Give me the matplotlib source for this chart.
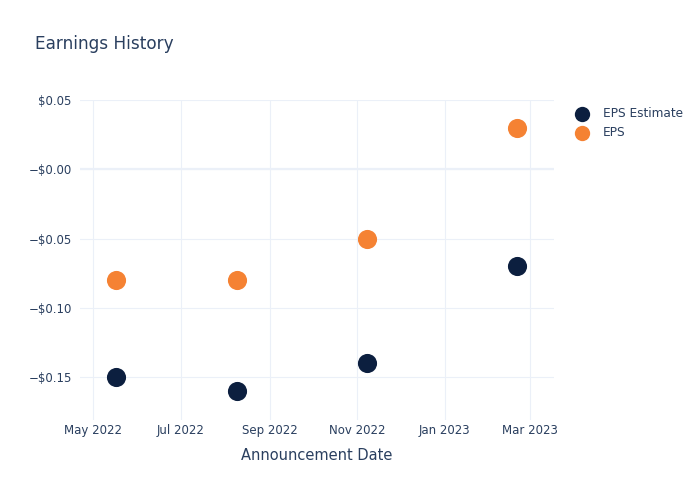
import matplotlib
matplotlib.use("Agg")
import matplotlib.pyplot as plt
import matplotlib.dates as mdates
import matplotlib.ticker as mticker
from datetime import datetime

# dane
daty = ["2022-05-17", "2022-08-09", "2022-11-08", "2023-02-20"]
eps_estimate = [-0.15, -0.16, -0.14, -0.07]
eps = [-0.08, -0.08, -0.05, 0.03]

kolor_tekstu = "#2a3f5f"
kolor_siatki = "#ebf0f8"

x = [datetime.strptime(d, "%Y-%m-%d") for d in daty]

fig = plt.figure(figsize=(7, 5), dpi=100)
ax = fig.add_axes([80 / 700, 80 / 500, 474 / 700, 320 / 500])

ax.scatter(x, eps_estimate, s=190, color="#0c1f3f", label="EPS Estimate", zorder=3, linewidths=0)
ax.scatter(x, eps, s=190, color="#f58233", label="EPS", zorder=3, linewidths=0)

ax.set_xlim(datetime(2022, 4, 22), datetime(2023, 3, 18))
ax.set_ylim(-0.181, 0.05)

ax.xaxis.set_major_locator(mdates.MonthLocator(bymonth=[1, 3, 5, 7, 9, 11]))
ax.xaxis.set_major_formatter(mdates.DateFormatter("%b %Y"))
ax.yaxis.set_major_locator(mticker.MultipleLocator(0.05))


def fmt_dolar(v, pos):
    if abs(v - 0.05) < 1e-9:
        return "$0.05"
    return "\u2212$%.2f" % abs(v)


ax.yaxis.set_major_formatter(mticker.FuncFormatter(fmt_dolar))

ax.grid(True, color=kolor_siatki, linewidth=0.8)
ax.axhline(0, color=kolor_siatki, linewidth=1.6, zorder=1)
ax.set_axisbelow(True)
for s in ax.spines.values():
    s.set_visible(False)
ax.tick_params(length=0, labelsize=8.5, colors=kolor_tekstu)
ax.tick_params(axis="x", pad=3)
ax.tick_params(axis="y", pad=6)

ax.set_xlabel("Announcement Date", fontsize=10.5, color=kolor_tekstu, labelpad=8)
fig.text(35 / 700, 1 - 44 / 500, "Earnings History", fontsize=12.2, color=kolor_tekstu, va="center")

leg = ax.legend(loc="upper left", bbox_to_anchor=(1.024, 0.992), frameon=False, fontsize=8.7,
                labelcolor=kolor_tekstu, handletextpad=0.7, borderaxespad=0, labelspacing=0.5,
                markerscale=0.8)

fig.savefig("out.png", dpi=100)
